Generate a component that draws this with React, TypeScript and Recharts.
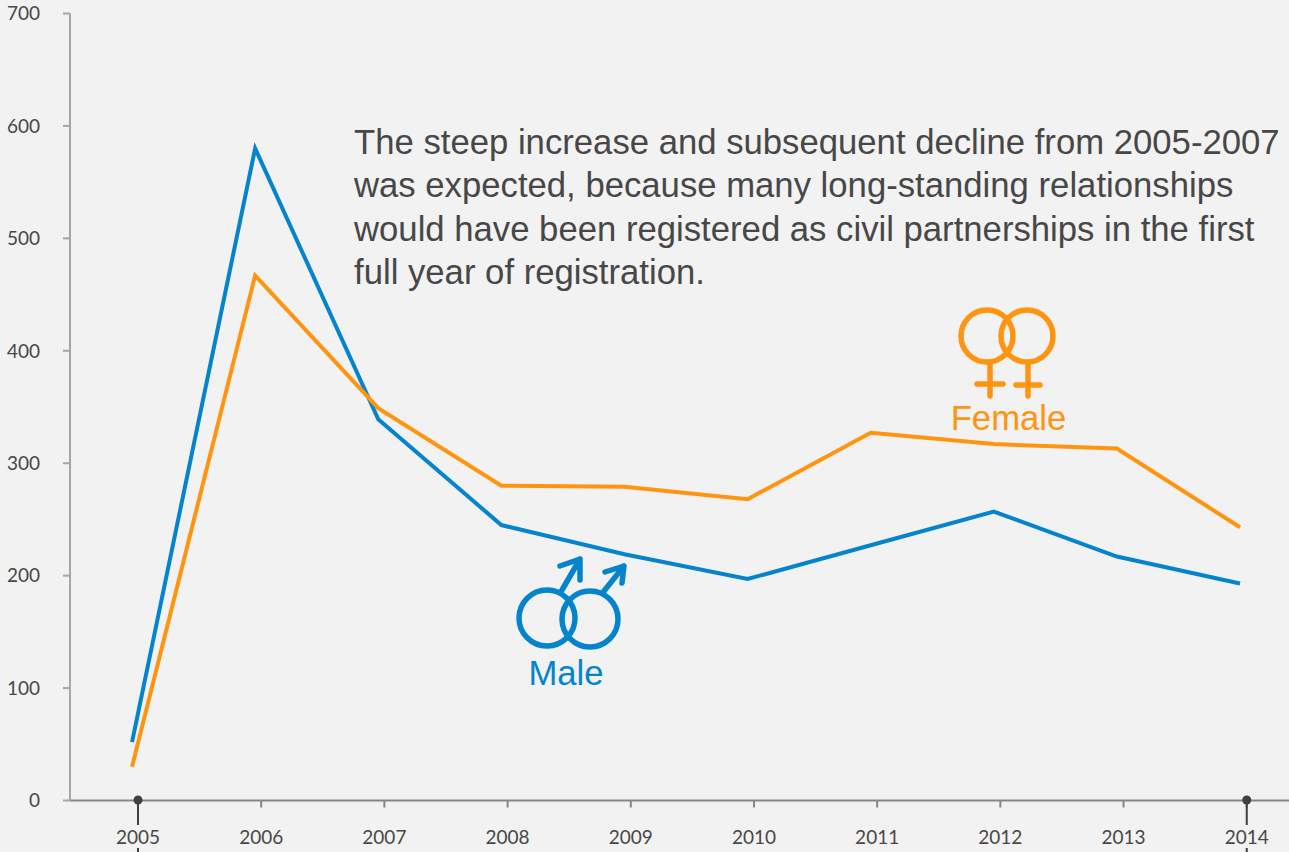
import { Line, LineChart, XAxis, YAxis } from "recharts";

const years = [2005, 2006, 2007, 2008, 2009, 2010, 2011, 2012, 2013, 2014];
const male = [52, 580, 339, 245, 219, 197, 227, 257, 217, 193];
const female = [30, 467, 349, 280, 279, 268, 327, 317, 313, 243];
const yTicks = [0, 100, 200, 300, 400, 500, 600, 700];
const note = [
  "The steep increase and subsequent decline from 2005-2007",
  "was expected, because many long-standing relationships",
  "would have been registered as civil partnerships in the first",
  "full year of registration.",
];

const data = years.map((year, i) => ({ year, male: male[i], female: female[i] }));

const BLUE = "#0584ce";
const ORANGE = "#ff9410";
const TEXT = "#474747";
const TICK_FONT = "Lato, 'Open Sans', sans-serif";
const ARIAL = "'Liberation Sans', Arial, sans-serif";

function YearTick({ x, payload }: any) {
  const pinned = payload.value === 2005 || payload.value === 2014;
  return (
    <g>
      {pinned && (
        <>
          <line x1={x} x2={x} y1={800} y2={825} stroke="#404040" strokeWidth={2} />
          <line x1={x} x2={x} y1={848} y2={852} stroke="#404040" strokeWidth={2} />
          <circle cx={x} cy={800} r={4.5} fill="#404040" />
        </>
      )}
      <text x={x} y={844} textAnchor="middle" fontFamily={TICK_FONT} fontSize={19} fill={TEXT}>
        {payload.value}
      </text>
    </g>
  );
}

function MaleSymbol() {
  return (
    <g fill="none" stroke={BLUE} strokeWidth={5.5} strokeLinecap="round" strokeLinejoin="round">
      <ellipse cx={547} cy={618} rx={28} ry={28} />
      <ellipse cx={590} cy={619} rx={28} ry={28} />
      <path d="M562 590 L580 559 M560 566 L580 559 L580 580" />
      <path d="M604 591 L624 566 M605 572 L624 566 L622 583" />
    </g>
  );
}

function FemaleSymbol() {
  return (
    <g fill="none" stroke={ORANGE} strokeWidth={5.5} strokeLinecap="round" strokeLinejoin="round">
      <ellipse cx={987} cy={336} rx={26} ry={26} />
      <ellipse cx={1027} cy={336} rx={26} ry={26} />
      <path d="M990 363 L990 396 M977 384 L1003 384" />
      <path d="M1028 363 L1028 396 M1016 385 L1040 385" />
    </g>
  );
}

export default function App() {
  return (
    <div style={{ position: "absolute", left: 0, top: 0, width: 1289, height: 852, background: "#f2f2f2", overflow: "hidden" }}>
      <LineChart width={1289} height={852} data={data} margin={{ top: 13.5, right: 0, bottom: 0, left: 0 }}>
        <XAxis
          xAxisId="ticks"
          dataKey="year"
          type="number"
          domain={[2004.448, 2014.343]}
          ticks={years}
          height={51.5}
          tickSize={7}
          stroke="#868686"
          strokeWidth={2}
          tick={<YearTick />}
          interval={0}
          allowDataOverflow
        />
        {/* the lines sit a few pixels left of the tick marks in the original */}
        <XAxis xAxisId="lines" dataKey="year" type="number" domain={[2004.496, 2014.398]} height={0} hide allowDataOverflow />
        <YAxis
          domain={[0, 700]}
          ticks={yTicks}
          width={70}
          tickSize={7}
          tickMargin={23}
          stroke="#a6a6a6"
          strokeWidth={2}
          tick={{ fontFamily: TICK_FONT, fontSize: 19, fill: TEXT, stroke: "none" }}
        />
        <Line xAxisId="lines" dataKey="male" stroke={BLUE} strokeWidth={4} dot={false} isAnimationActive={false} />
        <Line xAxisId="lines" dataKey="female" stroke={ORANGE} strokeWidth={4} dot={false} isAnimationActive={false} />
        <MaleSymbol />
        <FemaleSymbol />
        <text x={566} y={684.5} textAnchor="middle" fontFamily={ARIAL} fontSize={34.7} fill={BLUE}>
          Male
        </text>
        <text x={1008.5} y={430} textAnchor="middle" fontFamily={ARIAL} fontSize={34.7} fill={ORANGE}>
          Female
        </text>
        {note.map((line, i) => (
          <text key={line} x={354} y={153.5 + i * 43.5} fontFamily={ARIAL} fontSize={34.7} fill={TEXT}>
            {line}
          </text>
        ))}
      </LineChart>
    </div>
  );
}
